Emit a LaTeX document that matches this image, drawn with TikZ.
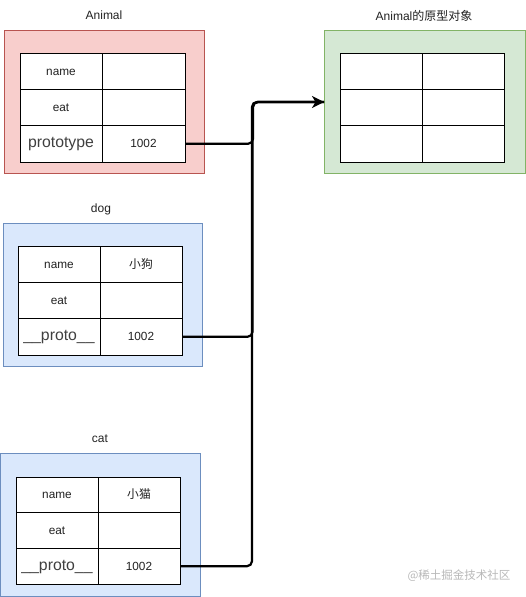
\documentclass[tikz,border=0pt]{standalone}
\usepackage{fontspec}
\setmainfont{Liberation Sans}
\newfontfamily\cjk{Noto Sans CJK SC}
\usetikzlibrary{arrows.meta}
\definecolor{redfill}{HTML}{F8CECC}
\definecolor{redline}{HTML}{B85450}
\definecolor{bluefill}{HTML}{DAE8FC}
\definecolor{blueline}{HTML}{6C8EBF}
\definecolor{greenfill}{HTML}{D5E8D4}
\definecolor{greenline}{HTML}{82B366}
\definecolor{wmgray}{HTML}{B8B8B8}
\definecolor{txt}{HTML}{222222}
\tikzset{
  outerbox/.style={draw=#1line, fill=#1fill, line width=0.8pt},
  cell/.style={draw=black, fill=white, line width=0.8pt, inner sep=0pt, text=txt, text height=1em, text depth=0.2em, font=\fontsize{11.8}{13}\selectfont},
  bigtext/.style={font=\fontsize{15.8}{17}\selectfont, text=black!75},
  title/.style={font=\fontsize{12}{13}\selectfont, inner sep=0pt, text=txt},
  link/.style={line width=2.2pt, rounded corners=5pt},
  linkarrow/.style={link, -{Stealth[length=12pt,width=12pt,inset=3.5pt]}},
}
\begin{document}
\begin{tikzpicture}[x=1pt,y=-1pt]
\useasboundingbox (0,0) rectangle (525,597);
% ---------- Animal ----------
\node[title] (tAnimal) at (104,15) {Animal};
\path[outerbox=red] (4,30) rectangle (204,173);
\node[cell, minimum width=82pt, minimum height=36.3pt] (a11) at (61,71.2) {name};
\node[cell, minimum width=83pt, minimum height=36.3pt] (a12) at (143.5,71.2) {};
\node[cell, minimum width=82pt, minimum height=36.3pt] (a21) at (61,107.5) {eat};
\node[cell, minimum width=83pt, minimum height=36.3pt] (a22) at (143.5,107.5) {};
\node[cell, bigtext, minimum width=82pt, minimum height=36.3pt] (a31) at (61,143.8) {prototype};
\node[cell, minimum width=83pt, minimum height=36.3pt] (a32) at (143.5,143.8) {1002};
% ---------- prototype object ----------
\node[title] (tProto) at (424,16) {Animal{\cjk 的原型对象}};
\path[outerbox=green] (324,30) rectangle (525,173);
\node[cell, minimum width=82pt, minimum height=36.3pt] (p11) at (381,71.2) {};
\node[cell, minimum width=82pt, minimum height=36.3pt] (p12) at (463,71.2) {};
\node[cell, minimum width=82pt, minimum height=36.3pt] (p21) at (381,107.5) {};
\node[cell, minimum width=82pt, minimum height=36.3pt] (p22) at (463,107.5) {};
\node[cell, minimum width=82pt, minimum height=36.3pt] (p31) at (381,143.8) {};
\node[cell, minimum width=82pt, minimum height=36.3pt] (p32) at (463,143.8) {};
\coordinate (protoIn) at (324,102);
% ---------- dog ----------
\node[title] (tDog) at (101,209) {dog};
\path[outerbox=blue] (3,223) rectangle (202,366);
\node[cell, minimum width=82pt, minimum height=36.3pt] (d11) at (59,264.2) {name};
\node[cell, minimum width=82pt, minimum height=36.3pt] (d12) at (141,264.2) {\cjk 小狗};
\node[cell, minimum width=82pt, minimum height=36.3pt] (d21) at (59,300.5) {eat};
\node[cell, minimum width=82pt, minimum height=36.3pt] (d22) at (141,300.5) {};
\node[cell, bigtext, minimum width=82pt, minimum height=36.3pt] (d31) at (59,336.8) {\_\_proto\_\_};
\node[cell, minimum width=82pt, minimum height=36.3pt] (d32) at (141,336.8) {1002};
% ---------- cat ----------
\node[title] (tCat) at (100,439) {cat};
\path[outerbox=blue] (0,453) rectangle (200,596.5);
\node[cell, minimum width=82pt, minimum height=35.7pt] (c11) at (57,494.8) {name};
\node[cell, minimum width=82pt, minimum height=35.7pt] (c12) at (139,494.8) {\cjk 小猫};
\node[cell, minimum width=82pt, minimum height=35.7pt] (c21) at (57,530.5) {eat};
\node[cell, minimum width=82pt, minimum height=35.7pt] (c22) at (139,530.5) {};
\node[cell, bigtext, minimum width=82pt, minimum height=35.7pt] (c31) at (57,566.2) {\_\_proto\_\_};
\node[cell, minimum width=82pt, minimum height=35.7pt] (c32) at (139,566.2) {1002};
% ---------- links ----------
\draw[linkarrow] (a32.east) -- (253,143.8) -- (253,102) -- (protoIn);
\draw[link] (d32.east) -- (252.5,336.8) -- (252.5,102) -- (protoIn);
\draw[link] (c32.east) -- (252,566.2) -- (252,102) -- (protoIn);
% ---------- watermark ----------
\node[font=\cjk\fontsize{11.5}{13}\selectfont, text=wmgray, inner sep=0pt] (wm) at (459,576) {@稀土掘金技术社区};
\end{tikzpicture}
\end{document}
